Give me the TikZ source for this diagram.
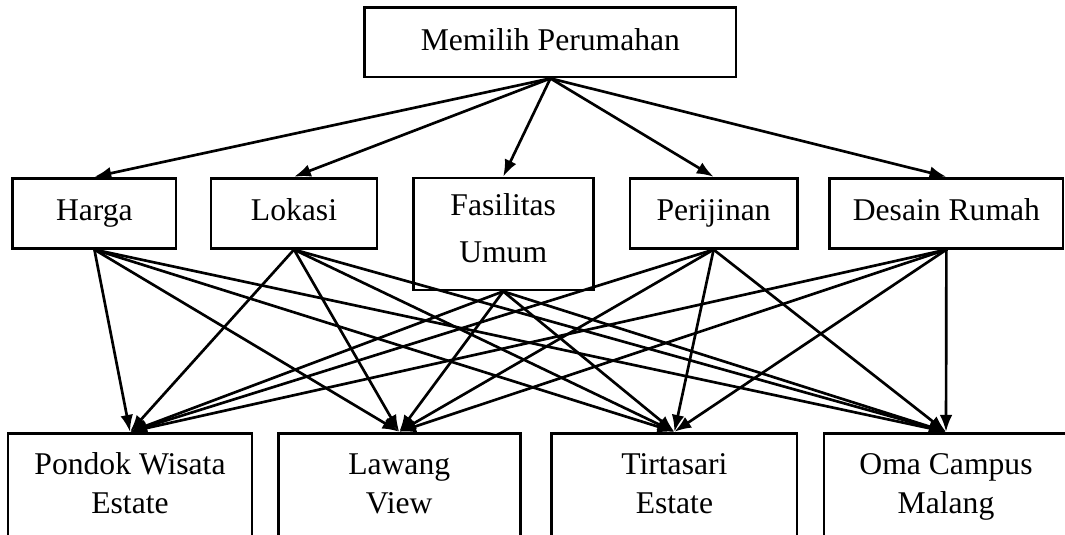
\documentclass[tikz,border=0pt]{standalone}
\usepackage{fontspec}
\setmainfont{Liberation Serif}
\usetikzlibrary{arrows.meta}

\begin{document}
\begin{tikzpicture}
      [%%%%%%%%%%%%%%%%%%%%%%%%%%%%%%
      box/.style={rectangle,draw=black,line width=2pt,inner sep=0pt,align=center,
        font=\fontsize{22.5}{27.7}\selectfont,
        execute at begin node=\strut,execute at end node=\strut},
      link/.style={line width=1.9pt,-{Latex[length=12pt,width=9pt]}},
      ]%%%%%%%%%%%%%%%%%%%%%%%%%%%%%%
      \clip (0,0) rectangle (26.625,-13.35);

      % goal
      \node[box,minimum width=9.28cm,minimum height=1.73cm] (goal) at (13.76,-1.06) {Memilih Perumahan};

      % criteria
      \node[box,minimum width=4.08cm,minimum height=1.75cm] (harga) at (2.36,-5.33) {Harga};
      \node[box,minimum width=4.15cm,minimum height=1.75cm] (lokasi) at (7.35,-5.33) {Lokasi};
      \node[box,minimum width=4.50cm,minimum height=2.80cm] (fasum) at (12.58,-5.85) {Fasilitas\\[6pt]Umum};
      \node[box,minimum width=4.18cm,minimum height=1.75cm] (ijin) at (17.84,-5.33) {Perijinan};
      \node[box,minimum width=5.83cm,minimum height=1.75cm] (desain) at (23.66,-5.33) {Desain Rumah};

      % alternatives
      \node[box,minimum width=6.10cm,minimum height=2.80cm] (pondok) at (3.25,-12.23) {Pondok Wisata\\Estate};
      \node[box,minimum width=6.05cm,minimum height=2.80cm] (lawang) at (9.98,-12.23) {Lawang\\View};
      \node[box,minimum width=6.13cm,minimum height=2.80cm] (tirta) at (16.86,-12.23) {Tirtasari\\Estate};
      \node[box,minimum width=6.10cm,minimum height=2.80cm] (oma) at (23.65,-12.23) {Oma Campus\\Malang};

      % goal to criteria
      \draw[link] (goal.south) -- (harga.north);
      \draw[link] (goal.south) -- (lokasi.north);
      \draw[link] (goal.south) -- (fasum.north);
      \draw[link] (goal.south) -- (ijin.north);
      \draw[link] (goal.south) -- (desain.north);

      % criteria to alternatives
      \draw[link] (harga.south) -- (pondok.north);
      \draw[link] (harga.south) -- (lawang.north);
      \draw[link] (harga.south) -- (tirta.north);
      \draw[link] (harga.south) -- (oma.north);
      \draw[link] (lokasi.south) -- (pondok.north);
      \draw[link] (lokasi.south) -- (lawang.north);
      \draw[link] (lokasi.south) -- (tirta.north);
      \draw[link] (lokasi.south) -- (oma.north);
      \draw[link] (fasum.south) -- (pondok.north);
      \draw[link] (fasum.south) -- (lawang.north);
      \draw[link] (fasum.south) -- (tirta.north);
      \draw[link] (fasum.south) -- (oma.north);
      \draw[link] (ijin.south) -- (pondok.north);
      \draw[link] (ijin.south) -- (lawang.north);
      \draw[link] (ijin.south) -- (tirta.north);
      \draw[link] (ijin.south) -- (oma.north);
      \draw[link] (desain.south) -- (pondok.north);
      \draw[link] (desain.south) -- (lawang.north);
      \draw[link] (desain.south) -- (tirta.north);
      \draw[link] (desain.south) -- (oma.north);
    \end{tikzpicture}
\end{document}
